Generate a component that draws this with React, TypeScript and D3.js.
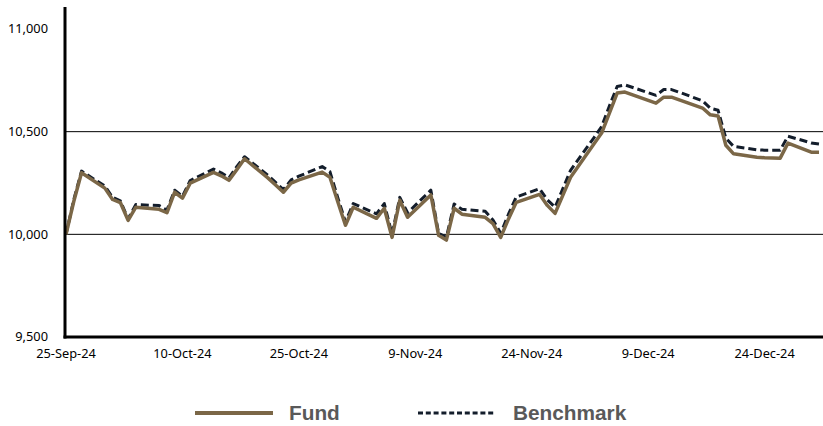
import React from "react";
import * as d3 from "d3";

const dates = [
  "2024-09-25","2024-09-26","2024-09-27","2024-09-30","2024-10-01","2024-10-02","2024-10-03","2024-10-04",
  "2024-10-07","2024-10-08","2024-10-09","2024-10-10","2024-10-11","2024-10-14","2024-10-15","2024-10-16",
  "2024-10-17","2024-10-18","2024-10-21","2024-10-22","2024-10-23","2024-10-24","2024-10-25","2024-10-28",
  "2024-10-29","2024-10-30","2024-10-31","2024-11-01","2024-11-04","2024-11-05","2024-11-06","2024-11-07",
  "2024-11-08","2024-11-11","2024-11-12","2024-11-13","2024-11-14","2024-11-15","2024-11-18","2024-11-19",
  "2024-11-20","2024-11-21","2024-11-22","2024-11-25","2024-11-26","2024-11-27","2024-11-29","2024-12-02",
  "2024-12-03","2024-12-04","2024-12-05","2024-12-06","2024-12-09","2024-12-10","2024-12-11","2024-12-12",
  "2024-12-13","2024-12-16","2024-12-17","2024-12-18","2024-12-19","2024-12-20","2024-12-23","2024-12-24",
  "2024-12-26","2024-12-27","2024-12-30","2024-12-31",
];

const fund = [
  10000,10160,10300,10225,10170,10155,10068,10132,
  10122,10105,10205,10176,10249,10302,10285,10263,
  10315,10368,10275,10240,10205,10249,10265,10303,
  10278,10160,10044,10132,10078,10127,9985,10166,
  10083,10192,9995,9972,10127,10098,10083,10052,
  9985,10075,10156,10195,10141,10102,10278,10440,
  10493,10590,10688,10693,10652,10639,10668,10668,
  10655,10615,10582,10576,10434,10392,10375,10373,
  10371,10444,10400,10400,
];

const benchmark = [
  10000,10168,10308,10235,10180,10163,10075,10145,
  10140,10118,10215,10185,10262,10318,10300,10275,
  10330,10378,10288,10253,10218,10265,10283,10330,
  10305,10180,10060,10150,10100,10150,10000,10180,
  10105,10215,10005,9985,10148,10122,10112,10070,
  10005,10098,10182,10222,10168,10132,10312,10470,
  10525,10625,10720,10728,10690,10677,10705,10705,
  10692,10650,10614,10604,10468,10428,10412,10410,
  10410,10478,10445,10440,
];

const yTicks = [9500, 10000, 10500, 11000];
const gridValues = [10000, 10500];
const xTickDates = ["2024-09-25","2024-10-10","2024-10-25","2024-11-09","2024-11-24","2024-12-09","2024-12-24"];
const xTickLabels = ["25-Sep-24","10-Oct-24","25-Oct-24","9-Nov-24","24-Nov-24","9-Dec-24","24-Dec-24"];
const seriesNames = ["Fund", "Benchmark"];

const W = 823;
const H = 426;
const FUND_COLOR = "#7b6747";
const BENCH_COLOR = "#131d2b";

export default function App() {
  const parse = d3.timeParse("%Y-%m-%d");
  const x = d3.scaleTime()
    .domain([parse("2024-09-25")!, parse("2024-12-31")!])
    .range([66, 819]);
  const y = d3.scaleLinear().domain([9500, 11000]).range([337, 29]);

  const fundPts = dates.map((d, i) => [x(parse(d)!), y(fund[i])] as [number, number]);
  const benchPts = dates.map((d, i) => [x(parse(d)!), y(benchmark[i])] as [number, number]);
  const line = d3.line<[number, number]>().x(p => p[0]).y(p => p[1]);

  const fmt = d3.format(",");
  const font = "'Noto Sans', 'Open Sans', sans-serif";

  return (
    <svg width={W} height={H} style={{ position: "absolute", left: 0, top: 0, background: "#fff" }}>
      {gridValues.map(v => (
        <line key={v} x1={65} x2={W} y1={y(v)} y2={y(v)} stroke="#000" strokeWidth={1} />
      ))}
      {yTicks.map(v => (
        <text key={v} x={48} y={y(v)} dy="0.35em" textAnchor="end" fontFamily={font} fontSize={12.8} fill="#000">
          {fmt(v)}
        </text>
      ))}
      {xTickDates.map((d, i) => (
        <text key={d} x={x(parse(d)!)} y={358} textAnchor="middle" fontFamily={font} fontSize={12.8} fill="#000">
          {xTickLabels[i]}
        </text>
      ))}
      <path d={line(benchPts) || ""} fill="none" stroke={BENCH_COLOR} strokeWidth={3} strokeDasharray="8,4" strokeLinejoin="round" />
      <path d={line(fundPts) || ""} fill="none" stroke={FUND_COLOR} strokeWidth={3.5} strokeLinejoin="round" />
      <line x1={65} x2={65} y1={7} y2={338.5} stroke="#000" strokeWidth={3} />
      <line x1={63.5} x2={W} y1={337} y2={337} stroke="#000" strokeWidth={3} />
      <g>
        <line x1={195} x2={273} y1={413} y2={413} stroke={FUND_COLOR} strokeWidth={4} />
        <text x={289} y={420} fontFamily="'Liberation Sans', Arial, sans-serif" fontWeight="bold" fontSize={20.8} fill="#595959">
          {seriesNames[0]}
        </text>
        <line x1={418} x2={496} y1={413} y2={413} stroke={BENCH_COLOR} strokeWidth={3} strokeDasharray="5,2.8" />
        <text x={513} y={420} fontFamily="'Liberation Sans', Arial, sans-serif" fontWeight="bold" fontSize={20.8} fill="#595959">
          {seriesNames[1]}
        </text>
      </g>
    </svg>
  );
}
